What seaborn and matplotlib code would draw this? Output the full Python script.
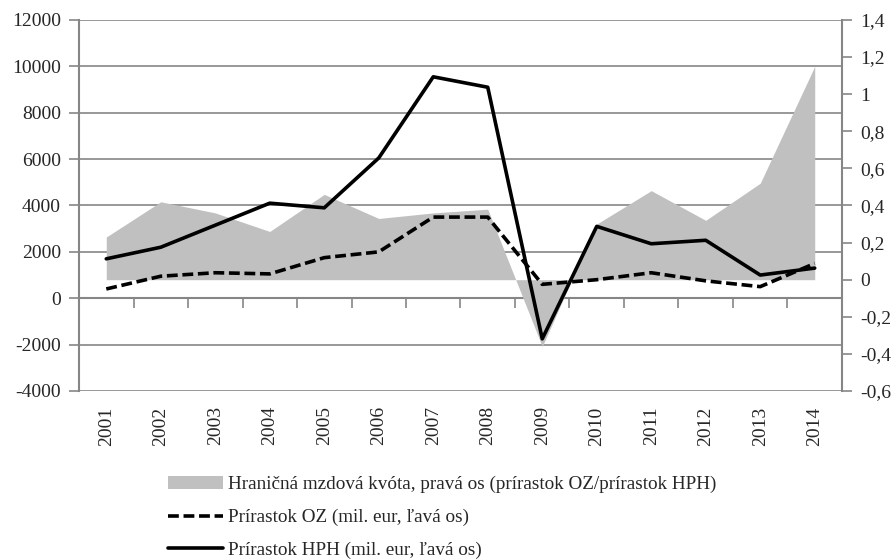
import numpy as np
import pandas as pd
import seaborn as sns
import matplotlib.pyplot as plt
from matplotlib.lines import Line2D
from matplotlib.patches import Patch
from matplotlib.ticker import FuncFormatter

# data
years = list(range(2001, 2015))
oz = [400, 950, 1100, 1050, 1750, 2000, 3500, 3500, 600, 800, 1100, 750, 500, 1500]
hph = [1700, 2200, 3150, 4100, 3900, 6050, 9550, 9100, -1750, 3100, 2350, 2500, 1000, 1300]
kvota = [0.23, 0.42, 0.36, 0.26, 0.46, 0.33, 0.36, 0.38, -0.36, 0.30, 0.48, 0.32, 0.52, 1.15]

lab_kvota = "Hraničná mzdová kvóta, pravá os (prírastok OZ/prírastok HPH)"
lab_oz = "Prírastok OZ (mil. eur, ľavá os)"
lab_hph = "Prírastok HPH (mil. eur, ľavá os)"

df = pd.DataFrame({"rok": years, "oz": oz, "hph": hph, "kvota": kvota})

sns.set_style("white")
plt.rcParams["font.family"] = "serif"
plt.rcParams["font.serif"] = ["Liberation Serif", "DejaVu Serif"]
plt.rcParams["font.size"] = 14
grey = "#868686"
lw = 2.6
dash = (0, (3.0, 1.3))

fig = plt.figure(figsize=(8.96, 5.6), dpi=100)
ax = fig.add_axes([0.0882, 0.3018, 0.8515, 0.6625])
ax2 = ax.twinx()   # right axis, area
ax3 = ax.twinx()   # lines on top, left scale

# left axis: grid + ticks
ax.set_ylim(-4000, 12000)
ax.set_yticks(np.arange(-4000, 12001, 2000))
ax.yaxis.set_major_formatter(FuncFormatter(lambda v, p: f"{v:.0f}"))
ax.grid(axis="y", color=grey, linewidth=1.2)
ax.set_xlim(2000.5, 2014.5)
ax.set_xticks(years)
ax.set_xticklabels([str(y) for y in years], rotation=90)
ax.tick_params(axis="x", length=0, pad=11)
ax.tick_params(axis="y", length=7, width=1.2, color=grey, direction="out", pad=6, left=True)
for s in ["top", "bottom", "right"]:
    ax.spines[s].set_visible(False)
ax.spines["left"].set_color(grey)
ax.spines["left"].set_linewidth(1.5)

# category axis crossing at 0
sec = ax.secondary_xaxis(0.25)
sec.set_xticks(np.arange(2001.5, 2014, 1))
sec.set_xticklabels([])
sec.tick_params(axis="x", length=7, width=1.2, color=grey, direction="out")
sec.spines["bottom"].set_color(grey)
sec.spines["bottom"].set_linewidth(1.5)

# right axis: area
ax2.fill_between(df["rok"], 0, df["kvota"], color="#c0c0c0", linewidth=0, interpolate=True)
ax2.set_ylim(-0.6, 1.4)
ax2.set_yticks(np.round(np.arange(-0.6, 1.41, 0.2), 1))
ax2.yaxis.set_major_formatter(FuncFormatter(lambda v, p: f"{v:g}".replace(".", ",")))
ax2.tick_params(axis="y", length=7, width=1.2, color=grey, direction="out", pad=6, right=True)
for s in ["top", "bottom", "left"]:
    ax2.spines[s].set_visible(False)
ax2.spines["right"].set_color(grey)
ax2.spines["right"].set_linewidth(1.5)

# lines
sns.lineplot(data=df, x="rok", y="oz", ax=ax3, color="black", linewidth=lw,
             linestyle=dash)
sns.lineplot(data=df, x="rok", y="hph", ax=ax3, color="black", linewidth=lw)
ax3.set_ylim(-4000, 12000)
ax3.set_xlim(2000.5, 2014.5)
ax3.set_axis_off()

ax.set_zorder(0)
ax2.set_zorder(1)
ax3.set_zorder(2)
ax2.patch.set_visible(False)
ax3.patch.set_visible(False)
ax.set_xlabel("")
ax.set_ylabel("")

handles = [
    Patch(facecolor="#c0c0c0", edgecolor="none"),
    Line2D([], [], color="black", linewidth=lw, linestyle=dash),
    Line2D([], [], color="black", linewidth=lw),
]
fig.legend(handles, [lab_kvota, lab_oz, lab_hph], loc="upper left",
           bbox_to_anchor=(168 / 896, 1 - 476 / 560), frameon=False, handlelength=2.85,
           handletextpad=0.3, labelspacing=0.8, borderpad=0, borderaxespad=0,
           fontsize=13.8)

fig.savefig("out.png", dpi=100)
